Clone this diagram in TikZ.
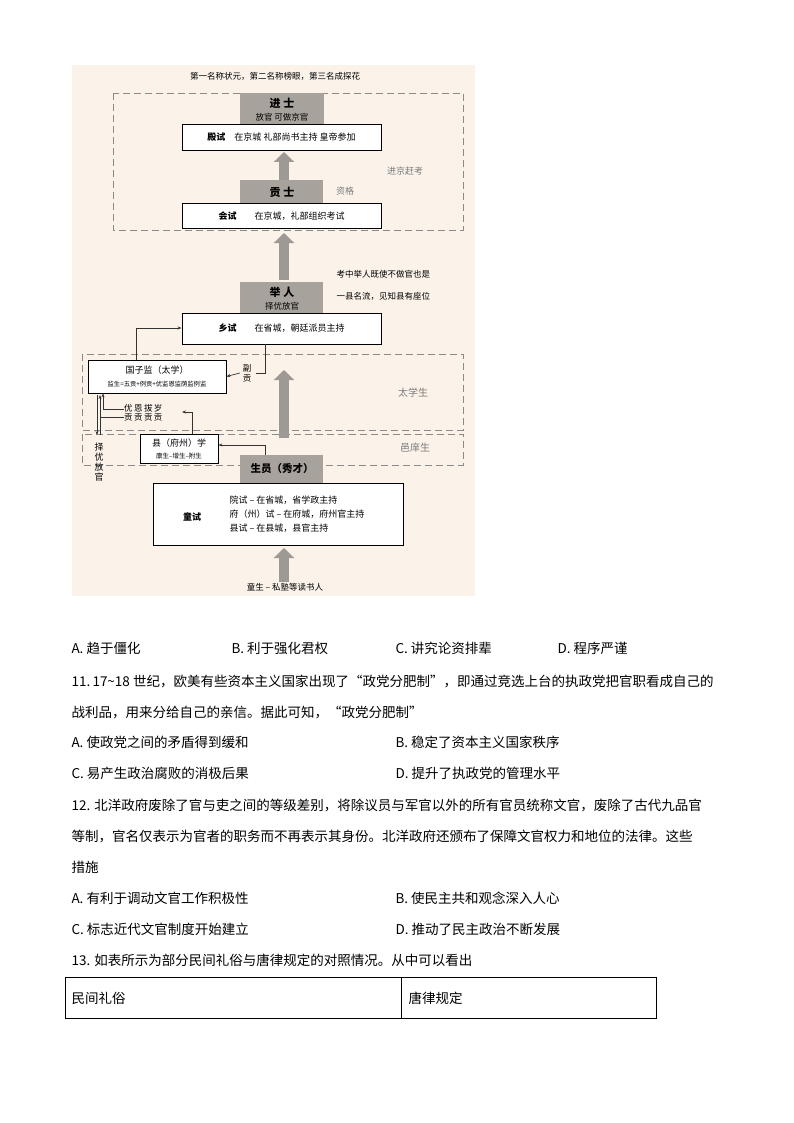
\documentclass[tikz,border=0pt]{standalone}
\usepackage{fontspec}
\setmainfont{Noto Sans CJK SC}
\usetikzlibrary{arrows.meta}
\definecolor{bg}{HTML}{FBF3EA}
\definecolor{gb}{HTML}{A8A29C}
\definecolor{ga}{HTML}{9E9994}
\definecolor{dl}{HTML}{8A8A8A}
\definecolor{lt}{HTML}{7A7A7A}
\tikzset{
 wb/.style={draw=black,line width=0.9pt,fill=white},
 gbox/.style={fill=gb,draw=none},
 dbox/.style={draw=dl,dashed,dash pattern=on 7pt off 4pt,line width=0.8pt},
 bigarr/.style={-{Triangle[length=10pt,width=20pt]},line width=10pt,draw=ga},
 thin/.style={line width=0.7pt,draw=black!80},
 ta/.style={thin,-{Stealth[length=4pt]}},
 dt/.style={font=\fontsize{8.5}{10}\selectfont},
 qt/.style={anchor=west,font=\fontsize{13.5}{15}\selectfont},
}
\begin{document}
\begin{tikzpicture}[x=1pt,y=-1pt]
\useasboundingbox (0,0) rectangle (794,1123);
\fill[white] (0,0) rectangle (794,1123);
\fill[bg] (72,65) rectangle (475,596);
\node[dt] (cap) at (275,76) {第一名称状元，第二名称榜眼，第三名成探花};
% dashed regions
\draw[dbox] (113,93) rectangle (463,230);
\draw[dbox] (82,354) rectangle (463,430);
\draw[dbox] (82,434) rectangle (463,465);
\node[font=\fontsize{9}{10}\selectfont,text=lt] (jj) at (405,171) {进京赶考};
\node[font=\fontsize{10}{11}\selectfont,text=lt] (tx) at (413,393) {太学生};
\node[font=\fontsize{10}{11}\selectfont,text=lt] (yx) at (415,448) {邑庠生};
% big arrows
\coordinate (a1s) at (284,180); \coordinate (a1e) at (284,152);
\draw[bigarr] (a1s) -- (a1e);
\coordinate (a2s) at (284,280); \coordinate (a2e) at (284,233);
\draw[bigarr] (a2s) -- (a2e);
\coordinate (a3s) at (284,438); \coordinate (a3e) at (284,370);
\draw[bigarr] (a3s) -- (a3e);
\coordinate (a4s) at (284,582); \coordinate (a4e) at (284,548);
\draw[bigarr] (a4s) -- (a4e);
% 进士
\fill[gbox] (240,93) rectangle (324,126);
\node[font=\bfseries\fontsize{11}{12}\selectfont] (js) at (282,103) {进 士};
\node[dt] (js2) at (282,117) {放官 可做京官};
\node[wb,minimum width=199pt,minimum height=26pt,font=\fontsize{9}{10}\selectfont] (ds) at (281.5,137) {\textbf{殿试}\quad 在京城 礼部尚书主持 皇帝参加};
% 贡士
\fill[gbox] (240,180) rectangle (323,204);
\node[font=\bfseries\fontsize{11}{12}\selectfont] (gs) at (282,192) {贡 士};
\node[font=\fontsize{9}{10}\selectfont,text=lt] (zg) at (345,191) {资格};
\node[wb,minimum width=199pt,minimum height=25pt,font=\fontsize{9}{10}\selectfont] (hs) at (281.5,216) {\textbf{会试}\qquad 在京城，礼部组织考试};
% 举人
\node[dt,anchor=west] (n1) at (333,274) {考中举人既使不做官也是};
\node[dt,anchor=west] (n2) at (333,296) {一县名流，见知县有座位};
\fill[gbox] (240,282) rectangle (323,315);
\node[font=\bfseries\fontsize{11}{12}\selectfont] (jr) at (282,292) {举 人};
\node[dt] (jr2) at (282,306) {择优放官};
\node[wb,minimum width=199pt,minimum height=31pt,font=\fontsize{9}{10}\selectfont] (xs) at (281.5,328.5) {\textbf{乡试}\qquad 在省城，朝廷派员主持};
% 国子监
\node[wb,line width=0.7pt,minimum width=138pt,minimum height=33pt,align=center,inner sep=1pt] (gzj) at (157,376.5) {{\fontsize{9}{10}\selectfont 国子监（太学）}\\[1pt]{\fontsize{6.3}{7}\selectfont 监生=五贡+例贡+优监恩监荫监例监}};
\node[dt,align=center,inner sep=0pt] (fg) at (247,373) {副\\贡};
\coordinate (c1) at (265,373);
\draw[thin] (xs.south -| c1) -- (c1) -- (256,373);
\draw[ta] (240,373) -- (gzj.east);
\coordinate (c2) at (136,328);
\draw[ta] (gzj.north -| c2) -- (c2) -- (xs.west |- c2);
% 县学
\node[wb,line width=0.7pt,minimum width=78pt,minimum height=29pt,align=center,inner sep=1pt] (xx) at (179,448.5) {{\fontsize{9}{10}\selectfont 县（府州）学}\\{\fontsize{6.5}{7.5}\selectfont 廪生--增生--附生}};
\node[font=\fontsize{8.5}{9.5}\selectfont,align=left,inner sep=0pt,anchor=west] (yg) at (124,413) {优\,恩\,拔\,岁\\贡\,贡\,贡\,贡};
\coordinate (c3) at (192,412);
\draw[ta] (xx.north -| c3) -- (c3) -- (182,412);
\draw[ta] (124,409) -- (103,409) -- (gzj.south -| 103,0);
\draw[thin] (124,417) -- (100,417);
\draw[ta] (97,395) -- (97,435);
\draw[ta] (100,435) -- (100,395);
\node[font=\fontsize{9}{10}\selectfont,align=center,inner sep=0pt] (zy) at (99,462) {择\\优\\放\\官};
% 生员
\fill[gbox] (240,455) rectangle (323,483);
\node[font=\bfseries\fontsize{10.5}{11}\selectfont] (sy) at (282,469) {生员（秀才）};
\coordinate (c4) at (265,445);
\draw[ta] (c4 |- 455,455) -- (c4) -- (xx.east |- c4);
\node[wb,minimum width=250pt,minimum height=62pt] (ts) at (278,514) {};
\node[font=\bfseries\fontsize{9}{10}\selectfont] (tsl) at (192,517) {童试};
\node[font=\fontsize{9}{14}\selectfont,align=left,anchor=west] (tst) at (226,514) {院试 -- 在省城，省学政主持\\府（州）试 -- 在府城，府州官主持\\县试 -- 在县城，县官主持};
\node[dt] (tsh) at (285,587) {童生 -- 私塾等读书人};
% questions
\node[qt] (q0a) at (68,648) {A. 趋于僵化};
\node[qt] (q0b) at (228,648) {B. 利于强化君权};
\node[qt] (q0c) at (392,648) {C. 讲究论资排辈};
\node[qt] (q0d) at (554,648) {D. 程序严谨};
\node[qt] (q11) at (68,681) {11.\,17\textasciitilde18 世纪，欧美有些资本主义国家出现了“政党分肥制”，即通过竞选上台的执政党把官职看成自己的};
\node[qt] (q11b) at (68,712) {战利品，用来分给自己的亲信。据此可知，“政党分肥制”};
\node[qt] (q11a) at (68,742) {A. 使政党之间的矛盾得到缓和};
\node[qt] (q11bb) at (392,742) {B. 稳定了资本主义国家秩序};
\node[qt] (q11c) at (68,773) {C. 易产生政治腐败的消极后果};
\node[qt] (q11d) at (392,773) {D. 提升了执政党的管理水平};
\node[qt] (q12) at (68,805) {12. 北洋政府废除了官与吏之间的等级差别，将除议员与军官以外的所有官员统称文官，废除了古代九品官};
\node[qt] (q12b) at (68,836) {等制，官名仅表示为官者的职务而不再表示其身份。北洋政府还颁布了保障文官权力和地位的法律。这些};
\node[qt] (q12c) at (68,867) {措施};
\node[qt] (q12a) at (68,898) {A. 有利于调动文官工作积极性};
\node[qt] (q12bb) at (392,898) {B. 使民主共和观念深入人心};
\node[qt] (q12cc) at (68,929) {C. 标志近代文官制度开始建立};
\node[qt] (q12d) at (392,929) {D. 推动了民主政治不断发展};
\node[qt] (q13) at (68,960) {13. 如表所示为部分民间礼俗与唐律规定的对照情况。从中可以看出};
\draw[line width=0.7pt] (65,977) rectangle (656,1018);
\draw[line width=0.7pt] (401,977) -- (401,1018);
\node[qt] (t1) at (68,998) {民间礼俗};
\node[qt] (t2) at (405,998) {唐律规定};
\end{tikzpicture}
\end{document}
